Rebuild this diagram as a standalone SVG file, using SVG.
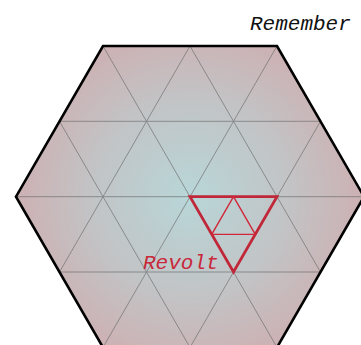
<svg xmlns="http://www.w3.org/2000/svg" width="361" height="345" viewBox="0 0 361 345">
<defs>
<radialGradient id="bg" cx="190" cy="197" r="175" gradientUnits="userSpaceOnUse">
<stop offset="0" stop-color="#b8d6d8"/>
<stop offset="0.55" stop-color="#c2c4c6"/>
<stop offset="1" stop-color="#cdb0b2"/>
</radialGradient>
<style>
.grid{stroke:#6e6e6e;stroke-width:0.9;fill:none;opacity:0.75}
.hex{stroke:#000;stroke-width:2.6;fill:none;stroke-linejoin:miter}
.lbl{font-family:"Liberation Mono","Courier New",monospace;font-style:italic;font-size:21px}
</style>
</defs>
<rect width="361" height="345" fill="#fff"/>
<g id="hexagon">
<polygon points="103,46 277,46 364,196.7 277,347.4 103,347.4 16,196.7" fill="url(#bg)"/>
</g>
<g id="grid" class="grid">
<line x1="59.5" y1="121.3" x2="320.5" y2="121.3"/>
<line x1="16" y1="196.7" x2="364" y2="196.7"/>
<line x1="59.5" y1="272" x2="320.5" y2="272"/>
<line x1="103" y1="46" x2="190" y2="196.7"/>
<line x1="190" y1="46" x2="277" y2="196.7"/>
<line x1="277" y1="46" x2="320.5" y2="121.3"/>
<line x1="59.5" y1="121.3" x2="190" y2="347.4"/>
<line x1="16" y1="196.7" x2="103" y2="347.4"/>
<line x1="190" y1="196.7" x2="277" y2="347.4"/>
<line x1="277" y1="196.7" x2="320.5" y2="272"/>
<line x1="103" y1="46" x2="59.5" y2="121.3"/>
<line x1="190" y1="46" x2="103" y2="196.7"/>
<line x1="277" y1="46" x2="190" y2="196.7"/>
<line x1="320.5" y1="121.3" x2="190" y2="347.4"/>
<line x1="364" y1="196.7" x2="277" y2="347.4"/>
<line x1="103" y1="196.7" x2="59.5" y2="272"/>
<line x1="190" y1="196.7" x2="103" y2="347.4"/>
</g>
<g id="hex-outline">
<polygon class="hex" points="103,46 277,46 364,196.7 277,347.4 103,347.4 16,196.7"/>
</g>
<g id="revolt-triangle">
<polygon points="190,196.7 277,196.7 233.5,272" fill="none" stroke="#c0283a" stroke-width="2.8" stroke-linejoin="miter"/>
<polygon points="233.5,196.7 255.25,234.35 211.75,234.35" fill="none" stroke="#d0283a" stroke-width="1.4"/>
</g>
<g id="labels">
<text class="lbl" x="250" y="30" fill="#111">Remember</text>
<text class="lbl" x="143" y="269" fill="#c8283a">Revolt</text>
</g>
</svg>
